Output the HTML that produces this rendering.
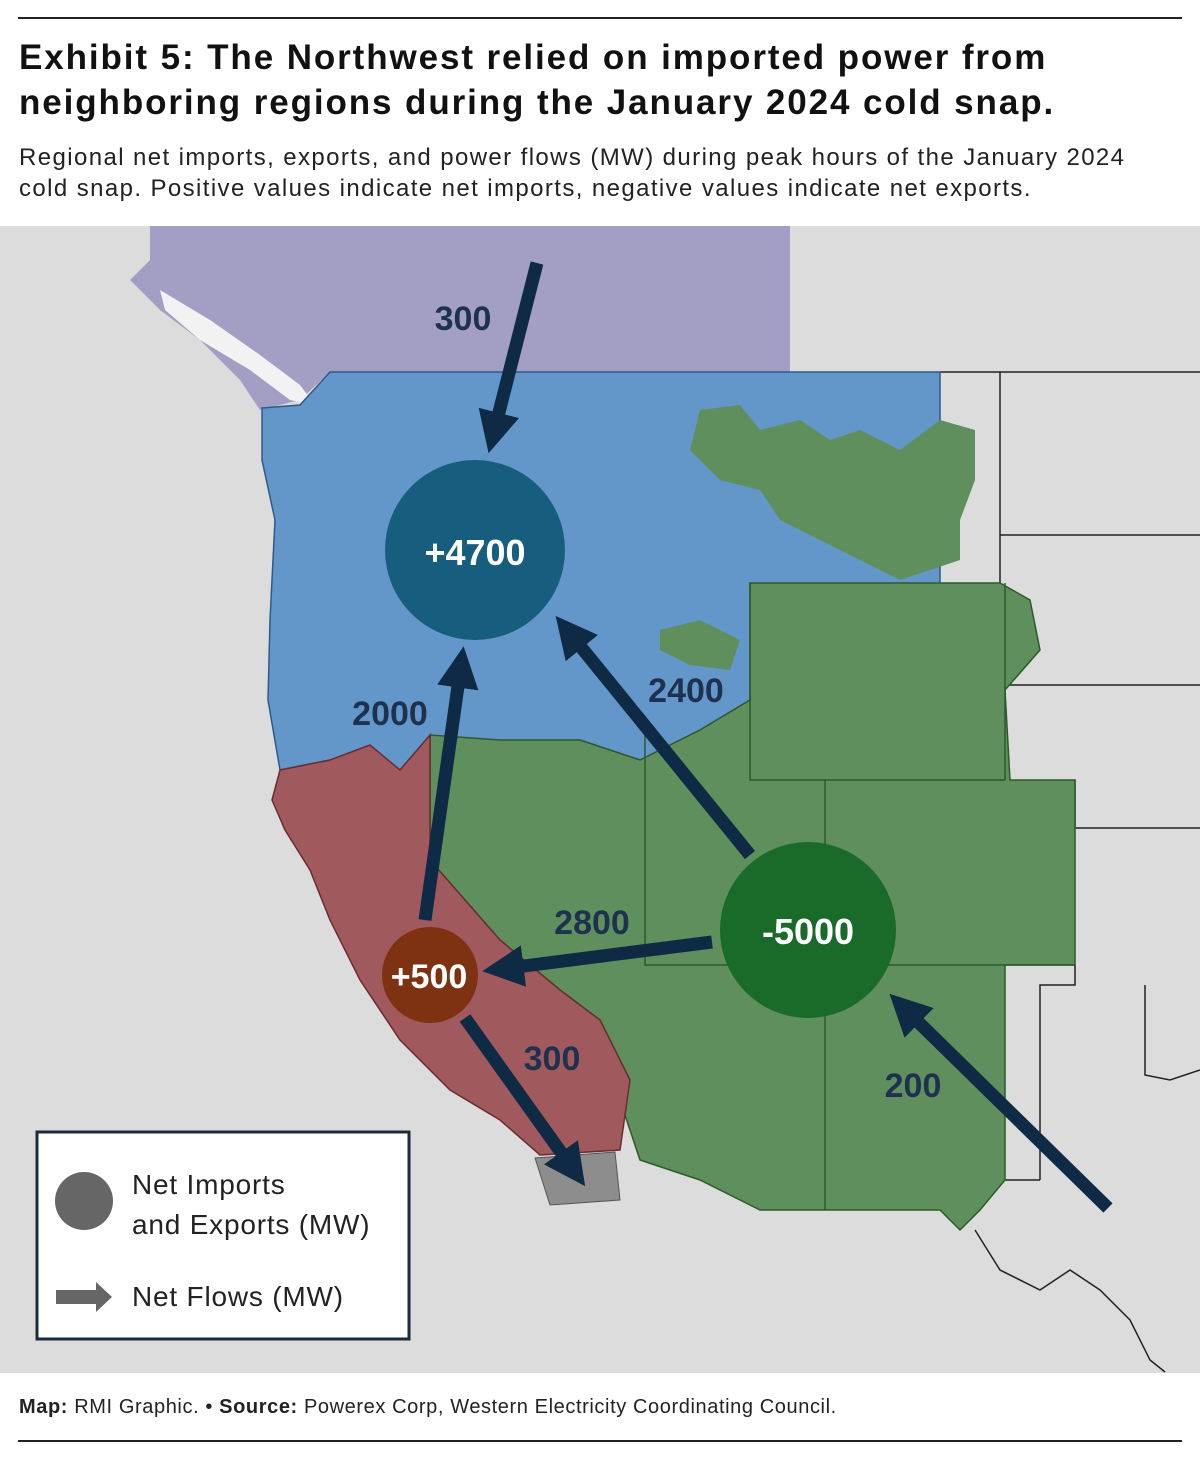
<!DOCTYPE html>
<html><head><meta charset="utf-8"><style>
body{margin:0;background:#fff;width:1200px;height:1459px;position:relative;font-family:"Liberation Sans",sans-serif;overflow:hidden}
.rule{position:absolute;left:18px;width:1164px;height:2px;background:#222}
.t{position:absolute;left:19px;font-weight:bold;font-size:35px;color:#111;letter-spacing:1.9px;white-space:nowrap}
.s{position:absolute;left:19px;font-size:24px;color:#222;letter-spacing:1.4px;white-space:nowrap}
</style></head><body>
<div class="rule" style="top:17px"></div>
<div class="t" style="top:38px">Exhibit 5: The Northwest relied on imported power from</div>
<div class="t" style="top:83px">neighboring regions during the January 2024 cold snap.</div>
<div class="s" style="top:144px">Regional net imports, exports, and power flows (MW) during peak hours of the January 2024</div>
<div class="s" style="top:175px">cold snap. Positive values indicate net imports, negative values indicate net exports.</div>
<svg style="position:absolute;left:0;top:226px" width="1200" height="1147" viewBox="0 226 1200 1147">
<rect x="0" y="226" width="1200" height="1147" fill="#dcdcdc"/>
<g stroke="#222" stroke-width="1.5" fill="none">
<path d="M940 372 H1200 M1000 372 V685 M1000 535 H1200 M1000 685 H1200 M1075 780 V828 H1200 M1075 965 V985 H1040 V1180 M1145 985 V1075 L1170 1080 L1200 1070 M1005 1180 H1040 M975 1230 L1000 1270 L1040 1290 L1070 1270 L1100 1290 L1130 1320 L1150 1360 L1165 1372"/>
</g>
<path d="M150 226 H790 V372 H330 L300 400 L260 410 L240 380 L200 340 L160 310 L130 280 L150 260 Z" fill="#a39fc4"/>
<path d="M160 290 L210 320 L260 355 L300 385 L315 405 L290 400 L250 370 L200 340 L165 310 Z" fill="#f2f2f2"/>
<path d="M262 408 L300 405 L330 372 H940 V590 H750 V700 L700 730 L640 760 L580 740 L500 745 L430 735 L400 770 L330 760 L280 770 L268 700 L270 620 L275 520 L262 460 Z" fill="#6497c9" stroke="#2c5b8a" stroke-width="1.5"/>
<path d="M700 410 L740 405 L760 430 L800 420 L830 440 L860 430 L900 450 L940 420 L975 430 L975 480 L960 520 L960 560 L900 580 L860 560 L820 540 L780 520 L760 490 L720 480 L690 450 Z" fill="#5f8f5d"/>
<path d="M660 630 L700 620 L740 640 L730 670 L690 665 L660 650 Z" fill="#5f8f5d"/>
<path d="M750 583 H1000 L1030 600 L1040 650 L1005 690 L1010 780 H1075 V965 H1005 V1180 L980 1210 L960 1230 L940 1210 H760 L700 1180 L640 1160 L620 1100 L630 1080 L600 1020 L560 990 L500 940 L430 860 L430 735 L500 740 L580 740 L640 760 L700 730 L750 700 Z" fill="#5f8f5d" stroke="#2d5a2b" stroke-width="1.5"/>
<g stroke="#2d5a2b" stroke-width="1.5" fill="none">
<path d="M750 583 V780 H1005 M645 735 V965 H1075 M825 780 V1210 M1005 583 V780"/>
</g>
<path d="M280 770 L330 760 L370 745 L400 770 L430 735 V860 L500 940 L560 990 L600 1020 L630 1080 L620 1150 L540 1155 L500 1120 L450 1090 L400 1040 L360 980 L330 920 L310 870 L285 830 L272 800 Z" fill="#a05a5d" stroke="#6a2c30" stroke-width="1.5"/>
<path d="M535 1158 L615 1152 L620 1200 L550 1205 Z" fill="#8d8d8d" stroke="#555"/>
<circle cx="475" cy="550" r="90" fill="#175e7e"/>
<circle cx="808" cy="930" r="88" fill="#1a6b2a"/>
<circle cx="430" cy="975" r="48" fill="#7e3212"/>
<defs><marker id="h" markerWidth="3.2" markerHeight="3.2" refX="1.2" refY="1.6" orient="auto" markerUnits="strokeWidth"><path d="M0 0 L3.2 1.6 L0 3.2 Z" fill="#0f2a45"/></marker></defs>
<g stroke="#0f2a45" stroke-width="13" marker-end="url(#h)">
<line x1="537" y1="263" x2="495" y2="428"/>
<line x1="425" y1="920" x2="460" y2="672"/>
<line x1="750" y1="855" x2="572" y2="636"/>
<line x1="712" y1="942" x2="508" y2="968"/>
<line x1="465" y1="1018" x2="570" y2="1165"/>
<line x1="1108" y1="1208" x2="908" y2="1012"/>
</g>
<g font-family="Liberation Sans,sans-serif" font-weight="bold" font-size="34" fill="#1e3250" text-anchor="middle">
<text x="463" y="330">300</text><text x="390" y="725">2000</text><text x="686" y="702">2400</text>
<text x="592" y="934">2800</text><text x="552" y="1070">300</text><text x="913" y="1097">200</text>
</g>
<g font-family="Liberation Sans,sans-serif" font-weight="bold" fill="#fff" text-anchor="middle">
<text x="475" y="565" font-size="36">+4700</text>
<text x="808" y="944" font-size="36">-5000</text>
<text x="429" y="988" font-size="34">+500</text>
</g>
<rect x="37" y="1132" width="372" height="207" fill="#fff" stroke="#1a2b3c" stroke-width="3"/>
<circle cx="84" cy="1201" r="29" fill="#666"/>
<path d="M56 1290 H96 V1282 L112 1297 L96 1312 V1304 H56 Z" fill="#666"/>
<g font-family="Liberation Sans,sans-serif" font-size="28" fill="#222" letter-spacing="0.8">
<text x="132" y="1194">Net Imports</text><text x="132" y="1234">and Exports (MW)</text>
<text x="132" y="1306">Net Flows (MW)</text>
</g>
</svg>
<div class="s" style="top:1396px;font-size:20px;letter-spacing:0.6px"><b>Map:</b> RMI Graphic. • <b>Source:</b> Powerex Corp, Western Electricity Coordinating Council.</div>
<div class="rule" style="top:1440px"></div>
</body></html>
